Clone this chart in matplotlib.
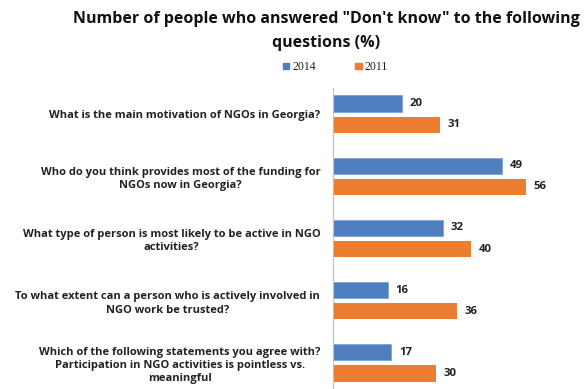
"""Horizontal grouped bars: share of "Don't know" answers, 2014 vs 2011."""

import matplotlib

matplotlib.use("Agg")
import matplotlib.pyplot as plt
import numpy as np

questions = [
    "What is the main motivation of NGOs in Georgia?",
    "Who do you think provides most of the funding for\nNGOs now in Georgia?",
    "What type of person is most likely to be active in NGO\nactivities?",
    "To what extent can a person who is actively involved in\nNGO work be trusted?",
    "Which of the following statements you agree with?\nParticipation in NGO activities is pointless vs.\nmeaningful",
]
vals_2014 = [20, 49, 32, 16, 17]
vals_2011 = [31, 56, 40, 36, 30]
series_names = ["2014", "2011"]

BLUE = "#4F7FBE"
ORANGE = "#ED7D31"

plt.rcParams["font.family"] = ["Open Sans", "DejaVu Sans"]

fig = plt.figure(figsize=(5.87, 3.89), dpi=100)
ax = fig.add_axes([0.567, 0.0, 0.42, 0.774])

y = np.arange(len(questions))
h = 0.26
off = 0.17
b1 = ax.barh(y - off, vals_2014, height=h, color=BLUE, edgecolor="#7FA3D3", linewidth=0.6)
b2 = ax.barh(y + off, vals_2011, height=h, color=ORANGE)

for bars, vals in ((b1, vals_2014), (b2, vals_2011)):
    for bar, v in zip(bars, vals):
        ax.text(v + 2.2, bar.get_y() + bar.get_height() / 2, f"{v}",
                va="center", ha="left", fontsize=8.2, fontweight="bold", color="#222222")

ax.set_xlim(0, 71.5)
ax.set_ylim(4.42, -0.42)
ax.set_yticks(y)
ax.set_yticklabels(questions, fontsize=8.0, fontweight="bold", color="#222222",
                   multialignment="center", linespacing=1.3)
ax.tick_params(axis="y", length=0, pad=9)
ax.set_xticks([])
for side in ("top", "right", "bottom"):
    ax.spines[side].set_visible(False)
ax.spines["left"].set_color("#BFBFBF")
ax.spines["left"].set_linewidth(0.8)

fig.text(0.556, 0.952, "Number of people who answered \"Don't know\" to the following",
         ha="center", va="center", fontsize=11.5, fontweight="bold", color="#111111")
fig.text(0.556, 0.890, "questions (%)",
         ha="center", va="center", fontsize=11.5, fontweight="bold", color="#111111")

# legend drawn by hand so it sits centred under the title
for x0, name, col in ((0.482, series_names[0], BLUE), (0.605, series_names[1], ORANGE)):
    fig.patches.append(plt.Rectangle((x0, 0.822), 0.011, 0.016, color=col,
                                     transform=fig.transFigure, figure=fig))
    fig.text(x0 + 0.016, 0.829, name, ha="left", va="center", fontsize=8.5,
             family="Liberation Serif", color="#222222")

fig.savefig("out.png", dpi=100)
